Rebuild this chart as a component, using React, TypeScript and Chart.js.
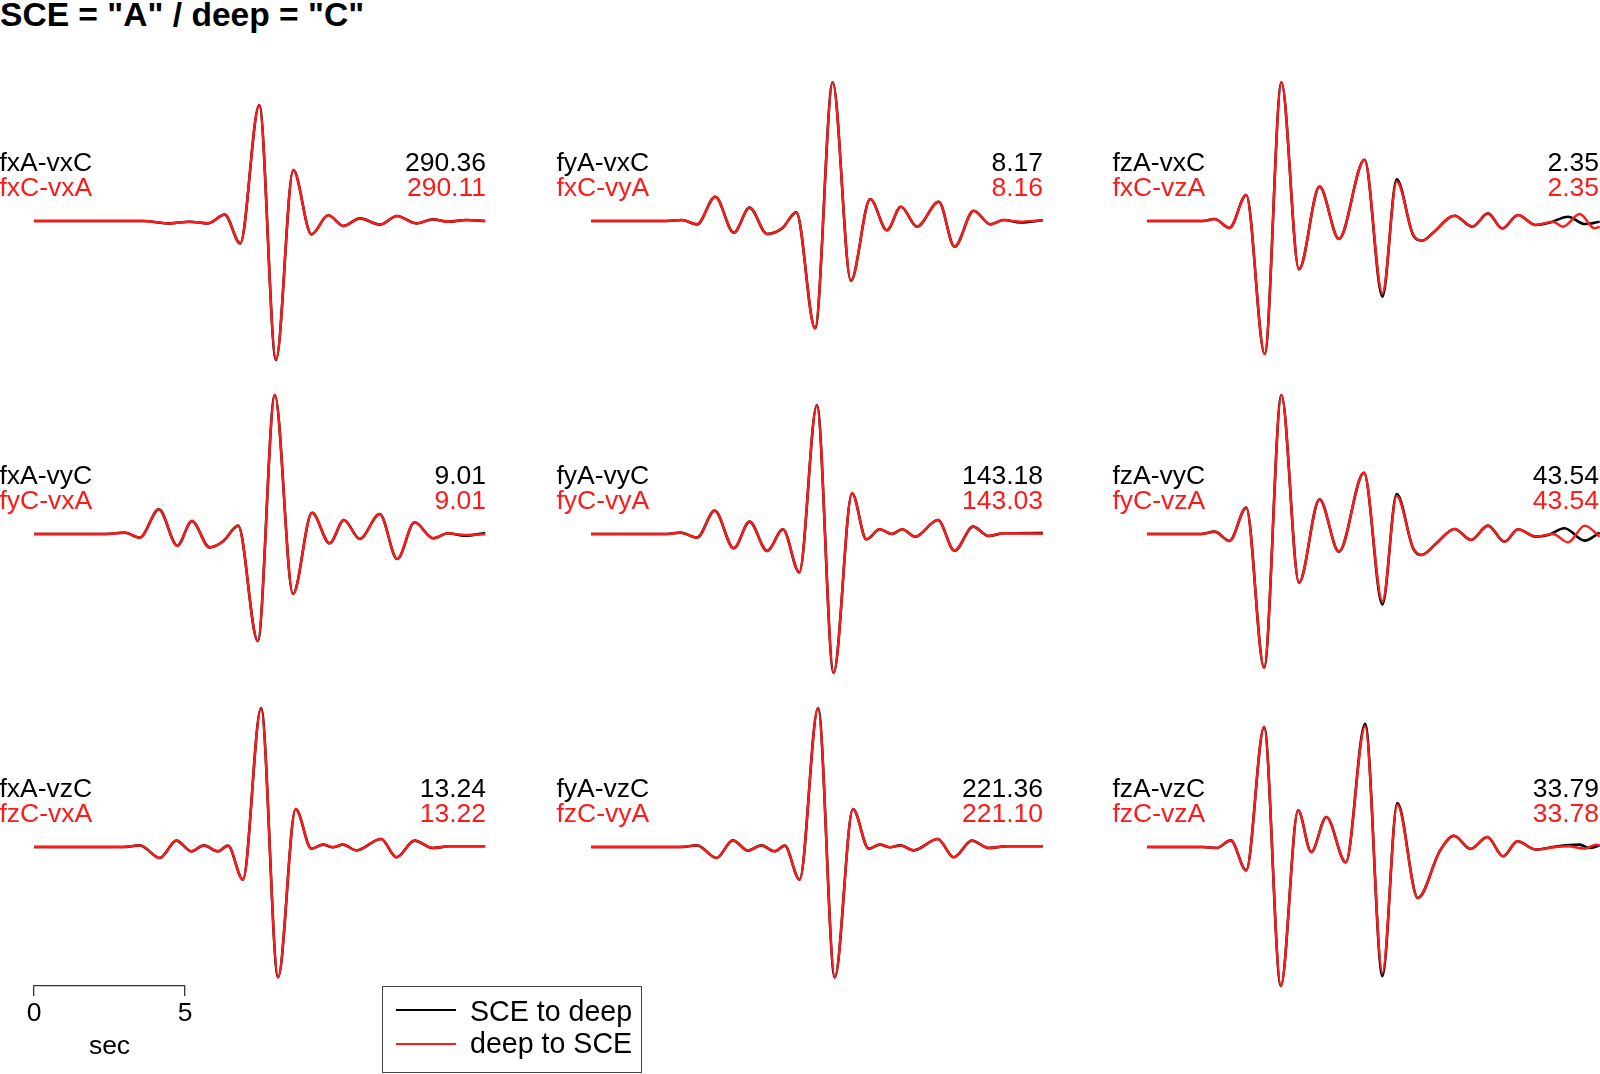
import React, { useEffect, useRef } from "react";
import { Chart, registerables } from "chart.js";

Chart.register(...registerables);

// ---------------- DATA ----------------
const titleText = 'SCE = "A" / deep = "C"';
const sceLabels = ["fxA-vxC", "fyA-vxC", "fzA-vxC", "fxA-vyC", "fyA-vyC", "fzA-vyC", "fxA-vzC", "fyA-vzC", "fzA-vzC"];
const deepLabels = ["fxC-vxA", "fxC-vyA", "fxC-vzA", "fyC-vxA", "fyC-vyA", "fyC-vzA", "fzC-vxA", "fzC-vyA", "fzC-vzA"];
const sceValues = ["290.36", "8.17", "2.35", "9.01", "143.18", "43.54", "13.24", "221.36", "33.79"];
const deepValues = ["290.11", "8.16", "2.35", "9.01", "143.03", "43.54", "13.22", "221.10", "33.78"];
const legendLabels = ["SCE to deep", "deep to SCE"];
const scaleTicks = [0, 5];
const scaleTitle = "sec";

// panel 1: fxA-vxC / fxC-vxA  (time in s, normalised amplitude)
const p1Time = [0, 3.66, 4.55, 5.22, 5.84, 6.4, 6.92, 7.56, 8.12, 8.7, 9.31, 9.87, 10.39, 10.93, 11.62, 12.18, 12.83, 13.39, 13.89, 14.51, 15.14];
const p1SCE = [0, 0, -0.017, -0.005, -0.017, 0.046, -0.161, 0.835, -1.0, 0.367, -0.096, 0.041, -0.036, 0.019, -0.026, 0.036, -0.017, 0.012, -0.005, 0.007, 0];
const p1Deep = [0, 0, -0.017, -0.005, -0.017, 0.046, -0.161, 0.834, -0.999, 0.367, -0.096, 0.041, -0.036, 0.019, -0.026, 0.036, -0.017, 0.012, -0.005, 0.007, 0];

// panel 2: fyA-vxC / fxC-vyA
const p2Time = [0, 2.55, 3.05, 3.56, 4.17, 4.79, 5.32, 5.91, 6.41, 6.89, 7.52, 8.11, 8.72, 9.37, 9.93, 10.4, 10.94, 11.67, 12.2, 12.84, 13.4, 13.85, 14.41, 15.16];
const p2SCE = [0, 0, 0.007, -0.024, 0.175, -0.084, 0.096, -0.094, -0.053, 0.062, -0.772, 0.998, -0.429, 0.158, -0.067, 0.103, -0.041, 0.139, -0.185, 0.074, -0.024, 0.007, -0.01, 0.005];
const p2Deep = [0, 0, 0.007, -0.024, 0.175, -0.084, 0.096, -0.094, -0.053, 0.062, -0.772, 0.998, -0.429, 0.158, -0.067, 0.103, -0.041, 0.139, -0.185, 0.074, -0.024, 0.007, -0.005, 0.005];

// panel 3: fzA-vxC / fxC-vzA
const p3TimeSCE = [0, 1.88, 2.27, 2.77, 3.33, 3.95, 4.51, 5.1, 5.79, 6.44, 7.3, 7.9, 8.38, 8.93, 9.24, 9.6, 10.32, 10.92, 11.44, 11.92, 12.45, 13.04, 13.51, 14.13, 14.69, 15.19];
const p3SCE = [0, 0, 0.014, -0.05, 0.187, -0.957, 0.998, -0.348, 0.247, -0.129, 0.441, -0.544, 0.3, -0.101, -0.141, -0.084, 0.038, -0.041, 0.055, -0.053, 0.043, -0.029, -0.012, 0.031, -0.022, -0.005];
const p3TimeDeep = [0, 1.88, 2.27, 2.77, 3.33, 3.95, 4.51, 5.1, 5.79, 6.44, 7.3, 7.9, 8.38, 8.93, 9.24, 9.6, 10.32, 10.92, 11.44, 11.92, 12.45, 13.04, 13.62, 13.96, 14.52, 15.02, 15.19];
const p3Deep = [0, 0, 0.014, -0.05, 0.187, -0.957, 0.998, -0.348, 0.247, -0.129, 0.441, -0.52, 0.283, -0.095, -0.141, -0.084, 0.038, -0.041, 0.055, -0.053, 0.043, -0.029, -0.005, -0.041, 0.05, -0.053, -0.041];

// panel 4: fxA-vyC / fyC-vxA
const p4Time = [0, 2.43, 3.04, 3.55, 4.19, 4.81, 5.3, 5.89, 6.36, 6.85, 7.51, 8.08, 8.69, 9.33, 9.92, 10.4, 10.93, 11.6, 12.19, 12.77, 13.39, 13.89, 14.45, 15.14];
const p4SCE = [0, 0, 0.01, -0.026, 0.177, -0.084, 0.094, -0.096, -0.05, 0.06, -0.77, 1.0, -0.432, 0.153, -0.067, 0.101, -0.036, 0.144, -0.18, 0.084, -0.031, 0.005, -0.012, 0.007];
const p4Deep = [0, 0, 0.01, -0.026, 0.177, -0.084, 0.094, -0.096, -0.05, 0.06, -0.77, 1.0, -0.432, 0.153, -0.067, 0.101, -0.036, 0.144, -0.18, 0.084, -0.031, 0.005, -0.007, -0.002];

// panel 5: fyA-vyC / fyC-vyA
const p5Time = [0, 2.55, 3.0, 3.56, 4.15, 4.79, 5.32, 5.91, 6.44, 6.99, 7.58, 8.14, 8.76, 9.24, 9.69, 10.1, 10.44, 10.88, 11.64, 12.2, 12.82, 13.34, 13.85, 15.16];
const p5SCE = [0, 0, 0.01, -0.026, 0.168, -0.103, 0.089, -0.122, 0.034, -0.276, 0.928, -1.0, 0.293, -0.038, 0.034, 0, 0.034, -0.019, 0.101, -0.12, 0.053, -0.014, 0.005, 0.007];
const p5Deep = [0, 0, 0.01, -0.026, 0.168, -0.103, 0.089, -0.122, 0.034, -0.276, 0.927, -0.999, 0.293, -0.038, 0.034, 0, 0.034, -0.019, 0.101, -0.12, 0.053, -0.014, 0.005, 0.002];

// panel 6: fzA-vyC / fyC-vzA
const p6TimeSCE = [0, 1.82, 2.27, 2.77, 3.33, 3.93, 4.51, 5.1, 5.79, 6.44, 7.28, 7.9, 8.38, 8.93, 9.21, 9.71, 10.32, 10.88, 11.44, 12.0, 12.45, 13.04, 13.46, 14.01, 14.69, 15.19];
const p6SCE = [0, 0, 0.017, -0.05, 0.19, -0.962, 1.0, -0.35, 0.249, -0.127, 0.441, -0.507, 0.288, -0.103, -0.151, -0.067, 0.036, -0.043, 0.06, -0.055, 0.034, -0.019, -0.007, 0.041, -0.048, 0.01];
const p6TimeDeep = [0, 1.82, 2.27, 2.77, 3.33, 3.93, 4.51, 5.1, 5.79, 6.44, 7.28, 7.9, 8.38, 8.93, 9.21, 9.71, 10.32, 10.88, 11.44, 12.0, 12.45, 13.04, 13.62, 14.13, 14.69, 15.19];
const p6Deep = [0, 0, 0.017, -0.05, 0.19, -0.962, 1.0, -0.35, 0.249, -0.127, 0.441, -0.484, 0.273, -0.1, -0.151, -0.067, 0.036, -0.043, 0.06, -0.055, 0.034, -0.019, 0, -0.06, 0.06, -0.019];

// panel 7: fxA-vzC / fzC-vxA
const p7Time = [0, 2.99, 3.55, 4.22, 4.78, 5.28, 5.7, 6.17, 6.51, 7.01, 7.62, 8.19, 8.78, 9.31, 9.7, 10.03, 10.37, 10.82, 11.65, 12.16, 12.77, 13.39, 13.95, 15.14];
const p7SCE = [0, 0, 0.012, -0.079, 0.046, -0.031, 0.012, -0.031, 0.01, -0.235, 1.0, -0.938, 0.273, -0.012, 0.017, -0.002, 0.017, -0.024, 0.058, -0.074, 0.046, -0.007, 0.005, 0.005];
const p7Deep = [0, 0, 0.012, -0.079, 0.046, -0.031, 0.012, -0.031, 0.01, -0.235, 0.999, -0.937, 0.273, -0.012, 0.017, -0.002, 0.017, -0.024, 0.058, -0.074, 0.046, -0.007, 0.005, 0.005];

// panel 8: fyA-vzC / fzC-vyA
const p8Time = [0, 3.0, 3.56, 4.21, 4.76, 5.27, 5.72, 6.16, 6.5, 7.0, 7.62, 8.18, 8.79, 9.32, 9.69, 10.04, 10.38, 10.83, 11.64, 12.17, 12.78, 13.34, 13.96, 15.16];
const p8SCE = [0, 0, 0.012, -0.079, 0.048, -0.026, 0.012, -0.031, 0.01, -0.235, 1.0, -0.938, 0.273, -0.012, 0.017, -0.002, 0.012, -0.024, 0.058, -0.074, 0.046, -0.007, 0.005, 0.005];
const p8Deep = [0, 0, 0.012, -0.079, 0.048, -0.026, 0.012, -0.031, 0.01, -0.235, 0.999, -0.937, 0.273, -0.012, 0.017, -0.002, 0.012, -0.024, 0.058, -0.074, 0.046, -0.007, 0.005, 0.005];

// panel 9: fzA-vzC / fzC-vzA
const p9TimeSCE = [0, 1.88, 2.33, 2.81, 3.33, 3.93, 4.49, 5.07, 5.51, 6.02, 6.67, 7.32, 7.9, 8.4, 9.09, 9.82, 10.3, 10.86, 11.42, 11.95, 12.43, 13.06, 13.62, 14.52, 14.85, 15.19];
const p9SCE = [0, 0, -0.007, 0.048, -0.168, 0.863, -1.0, 0.264, -0.036, 0.216, -0.11, 0.887, -0.93, 0.317, -0.367, -0.031, 0.081, -0.014, 0.072, -0.067, 0.041, -0.019, 0, 0.017, -0.007, 0.012];
const p9TimeDeep = [0, 1.88, 2.33, 2.81, 3.33, 3.93, 4.49, 5.07, 5.51, 6.02, 6.67, 7.32, 7.9, 8.4, 9.09, 9.82, 10.3, 10.86, 11.42, 11.95, 12.43, 13.06, 13.62, 14.13, 14.69, 15.08, 15.19];
const p9Deep = [0, 0, -0.007, 0.048, -0.168, 0.863, -1.0, 0.264, -0.036, 0.216, -0.11, 0.868, -0.906, 0.305, -0.367, -0.031, 0.081, -0.014, 0.072, -0.067, 0.041, -0.019, -0.002, 0.005, -0.012, 0.017, 0.012];

// ---------------- LAYOUT / STYLE ----------------
const FONT = "'Liberation Sans', Arial, Helvetica, sans-serif";
const BLACK = "#000000";
const RED = "#ff1a1a";
const PX_PER_SEC = 29.8;
const PX_PER_UNIT = 139;
const TRACE_W = 453;
const HALF_H = 150;
const COL_X = [34, 591, 1147];
const ROW_BASE = [221, 534, 847];
const LABEL_SIZE = 26.5;

const panels = [
  { tS: p1Time, yS: p1SCE, tD: p1Time, yD: p1Deep },
  { tS: p2Time, yS: p2SCE, tD: p2Time, yD: p2Deep },
  { tS: p3TimeSCE, yS: p3SCE, tD: p3TimeDeep, yD: p3Deep },
  { tS: p4Time, yS: p4SCE, tD: p4Time, yD: p4Deep },
  { tS: p5Time, yS: p5SCE, tD: p5Time, yD: p5Deep },
  { tS: p6TimeSCE, yS: p6SCE, tD: p6TimeDeep, yD: p6Deep },
  { tS: p7Time, yS: p7SCE, tD: p7Time, yD: p7Deep },
  { tS: p8Time, yS: p8SCE, tD: p8Time, yD: p8Deep },
  { tS: p9TimeSCE, yS: p9SCE, tD: p9TimeDeep, yD: p9Deep },
];

Chart.defaults.font.family = FONT;

function Txt(props: { x: number; base: number; size: number; color?: string; bold?: boolean; align?: "left" | "right" | "center"; children: React.ReactNode }) {
  const { x, base, size, color = BLACK, bold = false, align = "left", children } = props;
  const top = base - 0.8465 * size;
  const w = 420;
  const left = align === "left" ? x : align === "right" ? x - w : x - w / 2;
  return (
    <div
      style={{
        position: "absolute",
        left,
        top,
        width: w,
        textAlign: align,
        fontFamily: FONT,
        fontSize: size,
        lineHeight: `${size}px`,
        fontWeight: bold ? "bold" : "normal",
        color,
        whiteSpace: "nowrap",
      }}
    >
      {children}
    </div>
  );
}

function TracePanel(props: { left: number; top: number; tS: number[]; yS: number[]; tD: number[]; yD: number[] }) {
  const ref = useRef<HTMLCanvasElement>(null);
  const { left, top, tS, yS, tD, yD } = props;
  useEffect(() => {
    const chart = new Chart(ref.current as HTMLCanvasElement, {
      type: "line",
      data: {
        datasets: [
          {
            label: legendLabels[1],
            data: tD.map((t, i) => ({ x: t, y: yD[i] })),
            borderColor: RED,
            borderWidth: 2.4,
            pointRadius: 0,
            cubicInterpolationMode: "monotone",
            fill: false,
            order: 0,
            clip: false,
          } as any,
          {
            label: legendLabels[0],
            data: tS.map((t, i) => ({ x: t, y: yS[i] })),
            borderColor: BLACK,
            borderWidth: 2.6,
            pointRadius: 0,
            cubicInterpolationMode: "monotone",
            fill: false,
            order: 1,
            clip: false,
          } as any,
        ],
      },
      options: {
        animation: false,
        responsive: false,
        events: [],
        layout: { padding: 0 },
        plugins: { legend: { display: false }, tooltip: { enabled: false }, title: { display: false } },
        scales: {
          x: { type: "linear", min: 0, max: TRACE_W / PX_PER_SEC, display: false },
          y: { type: "linear", min: -HALF_H / PX_PER_UNIT, max: HALF_H / PX_PER_UNIT, display: false },
        },
      },
    });
    return () => chart.destroy();
  }, []);
  return (
    <canvas
      ref={ref}
      width={TRACE_W}
      height={HALF_H * 2}
      style={{ position: "absolute", left, top, width: TRACE_W, height: HALF_H * 2 }}
    />
  );
}

function ScaleBar() {
  const ref = useRef<HTMLCanvasElement>(null);
  const W = 151 + 40;
  const H = 112;
  useEffect(() => {
    const chart = new Chart(ref.current as HTMLCanvasElement, {
      type: "scatter",
      data: { datasets: [] },
      options: {
        animation: false,
        responsive: false,
        events: [],
        layout: { padding: { left: 20, right: 20, top: 0, bottom: 0 } },
        plugins: { legend: { display: false }, tooltip: { enabled: false } },
        scales: {
          x: {
            type: "linear",
            position: "bottom",
            min: scaleTicks[0],
            max: scaleTicks[scaleTicks.length - 1],
            afterBuildTicks: (s: any) => {
              s.ticks = scaleTicks.map((v) => ({ value: v }));
            },
            afterFit: (s: any) => {
              s.height = 86;
            },
            ticks: { color: BLACK, font: { size: 26.5, family: FONT }, padding: 2, autoSkip: false, maxRotation: 0 },
            grid: { display: true, drawOnChartArea: false, drawTicks: true, tickLength: 10, color: "#333", lineWidth: 1.3 },
            border: { display: true, color: "#333", width: 1.3 },
            title: { display: true, text: scaleTitle, color: BLACK, font: { size: 26.5, family: FONT }, padding: { top: 0, bottom: 9 } },
          },
          y: { display: false, min: 0, max: 1 },
        },
      },
    });
    return () => chart.destroy();
  }, []);
  return <canvas ref={ref} width={W} height={H} style={{ position: "absolute", left: 14, top: 960, width: W, height: H }} />;
}

function Legend() {
  const left = 382;
  const top = 986;
  return (
    <div
      style={{
        position: "absolute",
        left,
        top,
        width: 260,
        height: 87,
        border: "1.5px solid #444",
        boxSizing: "border-box",
        background: "#fff",
      }}
    >
      <div style={{ position: "absolute", left: 13, top: 22, width: 60, height: 2.2, background: BLACK }} />
      <div style={{ position: "absolute", left: 13, top: 55.5, width: 60, height: 2, background: RED }} />
      <div style={{ position: "absolute", left: 0, top: 0 }}>
        <Txt x={87} base={34.5} size={28.6}>{legendLabels[0]}</Txt>
        <Txt x={87} base={66} size={28.6}>{legendLabels[1]}</Txt>
      </div>
    </div>
  );
}

export default function App() {
  return (
    <div style={{ position: "absolute", left: 0, top: 0, width: 1600, height: 1074, background: "#fff", overflow: "hidden" }}>
      <Txt x={0} base={26.5} size={33.6} bold>
        {titleText}
      </Txt>
      {panels.map((p, i) => {
        const col = i % 3;
        const row = Math.floor(i / 3);
        const x0 = COL_X[col];
        const base = ROW_BASE[row];
        return (
          <React.Fragment key={i}>
            <TracePanel left={x0} top={base - HALF_H} tS={p.tS} yS={p.yS} tD={p.tD} yD={p.yD} />
            <Txt x={x0 - 34.5} base={base - 50} size={LABEL_SIZE} color={BLACK}>
              {sceLabels[i]}
            </Txt>
            <Txt x={x0 - 34.5} base={base - 24.5} size={LABEL_SIZE} color={RED}>
              {deepLabels[i]}
            </Txt>
            <Txt x={x0 + 452} base={base - 50} size={LABEL_SIZE} color={BLACK} align="right">
              {sceValues[i]}
            </Txt>
            <Txt x={x0 + 452} base={base - 24.5} size={LABEL_SIZE} color={RED} align="right">
              {deepValues[i]}
            </Txt>
          </React.Fragment>
        );
      })}
      <ScaleBar />
      <Legend />
    </div>
  );
}
